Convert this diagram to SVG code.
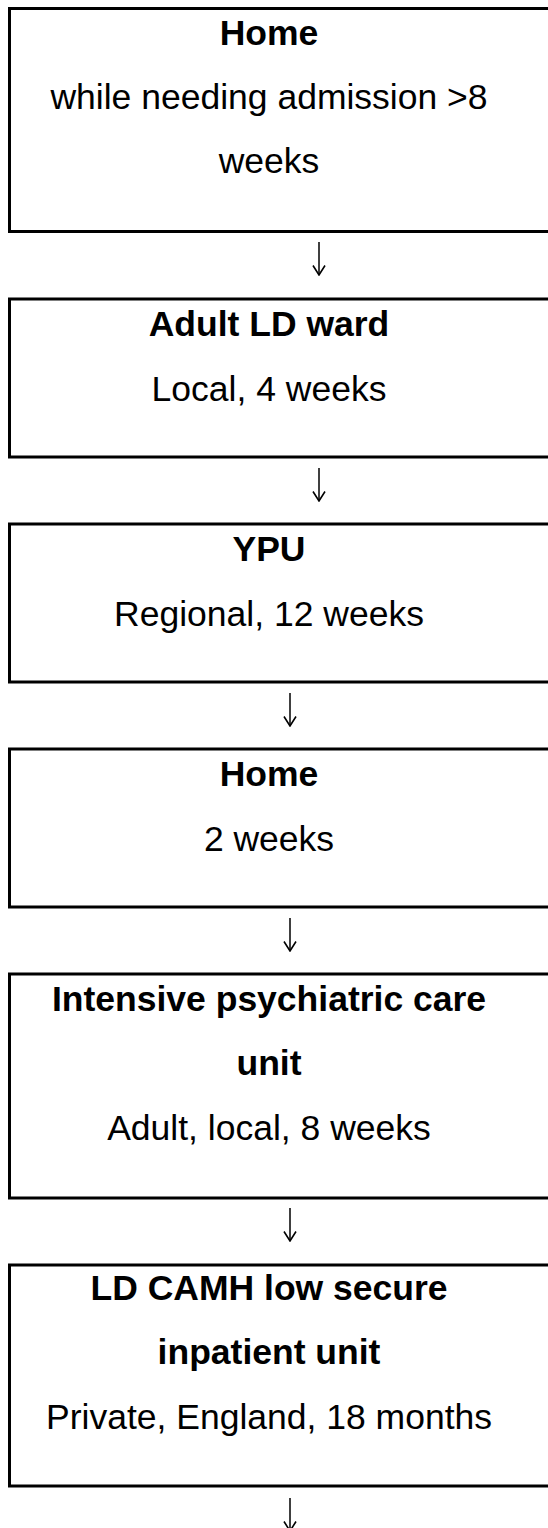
<svg xmlns="http://www.w3.org/2000/svg" width="548" height="1528" viewBox="0 0 548 1528">
<style>
.box{fill:#fff;stroke:#000;stroke-width:3}
text{font-family:"Liberation Sans",Arial,sans-serif;font-size:35.5px;fill:#000;text-anchor:middle}
.b{font-weight:bold}
.conn{stroke:#000;stroke-width:1.5;fill:none}
</style>
<defs>
<marker id="ah" markerWidth="11" markerHeight="14" refX="10.5" refY="7" orient="auto" markerUnits="userSpaceOnUse" viewBox="0 0 11 14">
<path d="M1,1 L10.5,7 L1,13" fill="none" stroke="#000" stroke-width="1.6"/>
</marker>
</defs>
<rect width="548" height="1528" fill="#fff"/>
<g id="n1">
<rect class="box" x="9.5" y="8.5" width="560" height="223"/>
<text class="b" x="269" y="45">Home</text>
<text x="269" y="109">while needing admission &gt;8</text>
<text x="269" y="173">weeks</text>
</g>
<g id="n2">
<rect class="box" x="9.5" y="299" width="560" height="158"/>
<text class="b" x="269" y="336">Adult LD ward</text>
<text x="269" y="401">Local, 4 weeks</text>
</g>
<g id="n3">
<rect class="box" x="9.5" y="524" width="560" height="158"/>
<text class="b" x="269" y="561">YPU</text>
<text x="269" y="626">Regional, 12 weeks</text>
</g>
<g id="n4">
<rect class="box" x="9.5" y="749" width="560" height="158"/>
<text class="b" x="269" y="786">Home</text>
<text x="269" y="851">2 weeks</text>
</g>
<g id="n5">
<rect class="box" x="9.5" y="974" width="560" height="224"/>
<text class="b" x="269" y="1011">Intensive psychiatric care</text>
<text class="b" x="269" y="1075">unit</text>
<text x="269" y="1140">Adult, local, 8 weeks</text>
</g>
<g id="n6">
<rect class="box" x="9.5" y="1265" width="560" height="221"/>
<text class="b" x="269" y="1300">LD CAMH low secure</text>
<text class="b" x="269" y="1364">inpatient unit</text>
<text x="269" y="1429">Private, England, 18 months</text>
</g>
<g id="connectors">
<path class="conn" d="M319,242 V275" marker-end="url(#ah)"/>
<path class="conn" d="M319,468 V501" marker-end="url(#ah)"/>
<path class="conn" d="M290,693 V726" marker-end="url(#ah)"/>
<path class="conn" d="M290,918 V951" marker-end="url(#ah)"/>
<path class="conn" d="M290,1208 V1241" marker-end="url(#ah)"/>
<path class="conn" d="M290,1498 V1531" marker-end="url(#ah)"/>
</g>
</svg>
